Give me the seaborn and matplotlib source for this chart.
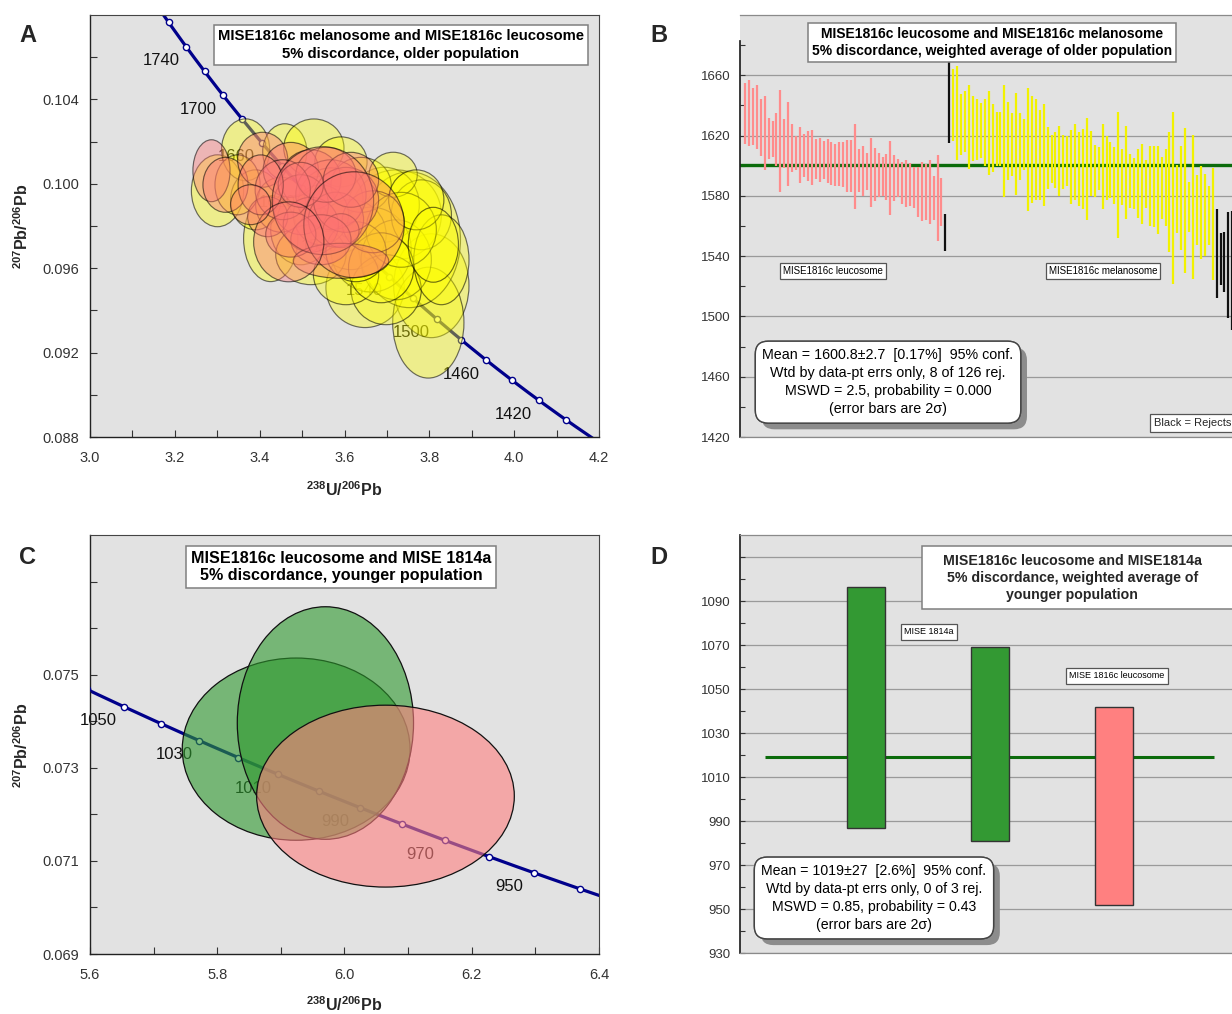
import numpy as np
import pandas as pd
import matplotlib
matplotlib.use("Agg")
import matplotlib.pyplot as plt
import seaborn as sns
from matplotlib.patches import Ellipse, Rectangle
from matplotlib import patheffects as pe
from matplotlib.ticker import FixedLocator, FormatStrFormatter

# ---------------------------------------------------------------- data
# Panel A: older population, error ellipses (238U/206Pb, 207Pb/206Pb, 2-sigma widths)
mel_x = [3.3006, 3.3669, 3.4592, 3.5278, 3.5917, 3.4260, 3.4970, 3.6485, 3.8047, 3.7976,
         3.7219, 3.7527, 3.6935, 3.6627, 3.6154, 3.5680, 3.3905, 3.7219, 3.7811, 3.6391,
         3.5207, 3.6982, 3.3479, 3.8284, 3.6036, 3.7148, 3.5444, 3.4497,
         3.7337, 3.6864, 3.7692, 3.6272, 3.8095, 3.6675]
mel_y = [0.09967, 0.10161, 0.10152, 0.10170, 0.10104, 0.09740, 0.09782, 0.09508, 0.09517, 0.09342,
         0.09853, 0.09735, 0.09901, 0.09688, 0.09759, 0.09924, 0.09924, 0.09640, 0.09853, 0.09995,
         0.09664, 0.09498, 0.09995, 0.09640, 0.09569, 0.10043, 0.09853, 0.09901,
         0.09782, 0.09602, 0.09924, 0.09678, 0.09711, 0.09820]
mel_w = [0.1231, 0.1136, 0.1041, 0.1420, 0.1231, 0.1278, 0.1420, 0.1846, 0.1775, 0.1680,
         0.2130, 0.2414, 0.1657, 0.1893, 0.1657, 0.1515, 0.1183, 0.1657, 0.1420, 0.1420,
         0.1657, 0.1657, 0.1065, 0.1302, 0.1538, 0.1136, 0.1302, 0.1183,
         0.1657, 0.1538, 0.1302, 0.1420, 0.1183, 0.1467]
mel_h = [0.003408, 0.002935, 0.002651, 0.002746, 0.002367, 0.004071, 0.003314, 0.003787, 0.004923, 0.005254,
         0.004260, 0.006438, 0.003550, 0.004024, 0.003314, 0.003030, 0.002840, 0.003787, 0.003314, 0.002604,
         0.002840, 0.003314, 0.002840, 0.004260, 0.002840, 0.002130, 0.002840, 0.002604,
         0.003550, 0.003314, 0.002840, 0.002840, 0.003550, 0.002935]

leu_x = [3.2864, 3.3195, 3.4071, 3.4734, 3.5207, 3.5680, 3.4970, 3.4189, 3.5207, 3.5799,
         3.6036, 3.5562, 3.4544, 3.5917, 3.4970, 3.5444, 3.4734, 3.5917, 3.4024, 3.6154,
         3.5491, 3.6225, 3.4686, 3.3787]
leu_y = [0.10062, 0.09995, 0.10114, 0.10066, 0.10019, 0.09948, 0.09901, 0.09844, 0.09806, 0.09830,
         0.09924, 0.10043, 0.09972, 0.09778, 0.09995, 0.09735, 0.09759, 0.09635, 0.09995, 0.10019,
         0.09920, 0.09806, 0.09725, 0.09901]
leu_w = [0.0876, 0.1065, 0.1183, 0.1302, 0.1420, 0.1657, 0.1302, 0.0947, 0.1302, 0.1302,
         0.1538, 0.1420, 0.1302, 0.0852, 0.1065, 0.1420, 0.1183, 0.2249, 0.1065, 0.1302,
         0.2391, 0.2367, 0.1657, 0.0947]
leu_h = [0.002935, 0.002604, 0.002604, 0.002604, 0.002840, 0.003314, 0.002840, 0.001893, 0.002604, 0.002604,
         0.003077, 0.002604, 0.002840, 0.001609, 0.002130, 0.002367, 0.002130, 0.001657, 0.002840, 0.002604,
         0.005112, 0.005018, 0.003787, 0.001893]

# Panel B: 207Pb/206Pb ages (Ma), 2-sigma error bar limits
leuco_hi = [1655.0, 1656.7, 1651.6, 1653.6, 1644.3, 1646.1, 1631.7, 1629.7, 1635.0, 1650.0,
            1631.0, 1642.3, 1628.0, 1620.0, 1625.7, 1620.9, 1623.3, 1623.5, 1617.8, 1618.7,
            1616.2, 1617.8, 1615.6, 1614.2, 1616.0, 1615.6, 1617.3, 1616.9, 1628.0, 1611.1,
            1613.3, 1608.5, 1618.7, 1612.0, 1608.5, 1605.8, 1608.0, 1616.4, 1607.2, 1604.5,
            1602.7, 1604.1, 1601.9, 1599.2, 1599.2, 1602.3, 1601.0, 1603.6, 1593.0, 1607.4, 1591.7]
leuco_lo = [1614.7, 1612.9, 1614.0, 1611.1, 1606.7, 1597.4, 1604.5, 1605.6, 1599.6, 1582.6,
            1598.5, 1586.4, 1595.7, 1597.0, 1588.6, 1592.6, 1589.7, 1587.3, 1591.2, 1589.0,
            1591.2, 1588.6, 1587.5, 1586.8, 1586.4, 1585.9, 1582.6, 1582.4, 1571.3, 1582.4,
            1579.8, 1583.7, 1572.7, 1576.4, 1579.3, 1580.2, 1577.5, 1567.4, 1576.4, 1579.3,
            1574.9, 1572.7, 1573.1, 1571.8, 1566.1, 1563.0, 1563.8, 1561.6, 1564.3, 1549.9, 1560.3]
rej_mid_hi = [1568.0, 1690.0]
rej_mid_lo = [1543.5, 1615.4]
mela_hi = [1664.2, 1666.4, 1647.8, 1649.6, 1653.6, 1646.1, 1644.3, 1641.7, 1644.3, 1649.6,
           1640.8, 1635.9, 1635.9, 1653.6, 1642.5, 1635.0, 1648.3, 1635.0, 1631.0, 1651.8,
           1646.5, 1644.3, 1636.8, 1640.8, 1625.7, 1620.4, 1622.2, 1626.2,
           1620.4, 1620.0, 1624.0, 1628.0, 1622.2, 1624.4, 1631.7, 1622.9, 1614.0, 1612.5,
           1628.0, 1620.0, 1615.6, 1612.5, 1635.5, 1611.1, 1626.2, 1608.0, 1605.4, 1611.1,
           1614.7, 1603.6, 1612.9, 1612.9, 1613.3, 1605.8,
           1611.1, 1622.6, 1635.9, 1600.7, 1612.9, 1624.8, 1589.5, 1620.4, 1593.9, 1600.1,
           1594.3, 1586.8, 1598.3]
mela_lo = [1616.2, 1604.1, 1607.4, 1608.9, 1597.9, 1603.0, 1604.1, 1605.0, 1599.6, 1594.1,
           1595.7, 1599.6, 1599.6, 1579.3, 1590.4, 1593.4, 1580.6, 1590.4, 1597.4, 1569.8,
           1575.3, 1577.1, 1577.1, 1573.1, 1584.6, 1588.6, 1585.3, 1580.2,
           1584.6, 1586.4, 1574.9, 1577.1, 1573.1, 1571.3, 1564.3, 1579.8, 1579.3, 1584.2,
           1571.3, 1577.5, 1578.9, 1574.9, 1552.1, 1574.0, 1564.7, 1571.8, 1571.3, 1565.6,
           1561.2, 1571.8, 1559.8, 1559.4, 1555.0, 1564.7,
           1560.3, 1542.6, 1521.4, 1555.4, 1543.9, 1528.9, 1555.9, 1524.9, 1547.5, 1538.2,
           1540.0, 1547.5, 1524.5]
rej_end_hi = [1571.3, 1555.4, 1555.9, 1569.6, 1569.8, 1560.0]
rej_end_lo = [1512.1, 1520.9, 1516.1, 1498.8, 1491.3, 1500.0]
mean_old = 1600.8

# Panel C: younger population ellipses
c_sample = ["MISE 1814a", "MISE 1814a", "MISE 1816c leucosome"]
c_x = [5.924, 5.970, 6.0644]
c_y = [0.07340, 0.073961, 0.072391]
c_w = [0.358, 0.277, 0.405]
c_h = [0.003914, 0.004996, 0.003907]

# Panel D: weighted average of younger population
d_sample = ["MISE 1814a", "MISE 1814a", "MISE 1816c leucosome"]
d_lo = [987.0, 980.7, 952.0]
d_hi = [1096.3, 1069.0, 1042.0]
mean_young = 1019.0

# Concordia ages (Ma)
a_marker_ages = list(range(1400, 1781, 20))
a_label_ages = list(range(1420, 1741, 40))
c_marker_ages = list(range(940, 1061, 10))
c_label_ages = list(range(950, 1051, 20))

# ---------------------------------------------------------------- style
sns.set_theme(style="ticks")
plt.rcParams["font.family"] = ["Liberation Sans", "DejaVu Sans"]
plt.rcParams["mathtext.fontset"] = "custom"
plt.rcParams["mathtext.rm"] = "Liberation Sans"
plt.rcParams["mathtext.bf"] = "Liberation Sans:bold"
plt.rcParams["axes.unicode_minus"] = False

BG = "#E2E2E2"
NAVY = "#00008B"
W, H = 1232, 1014
fig = plt.figure(figsize=(W / 100, H / 100), dpi=100, facecolor="white")


def axes_px(left, top, right, bottom):
    return fig.add_axes([left / W, 1 - bottom / H, (right - left) / W, (bottom - top) / H])


L238, L235, U85 = 1.55125e-4, 9.8485e-4, 137.88


def concordia(t):
    t = np.asarray(t, dtype=float)
    e8 = np.exp(L238 * t) - 1
    e5 = np.exp(L235 * t) - 1
    return 1 / e8, e5 / e8 / U85


def tick_style(ax, pad_x=10, pad_y=8, size=10.5):
    ax.tick_params(axis="both", which="both", direction="in", length=5, width=0.8,
                   color="#333333", labelcolor="#333333", labelsize=size)
    ax.tick_params(axis="x", pad=pad_x)
    ax.tick_params(axis="y", pad=pad_y)


def boxed(ax, x, y, s, size, weight="normal", ha="center", style="square,pad=0.35",
          ec="#7f7f7f", lw=1.1, ls=1.35, shadow=False):
    t = ax.text(x, y, s, transform=ax.transAxes, fontsize=size, fontweight=weight, ha=ha,
                va="center", linespacing=ls, multialignment="center", color="black",
                bbox=dict(boxstyle=style, fc="white", ec=ec, lw=lw), zorder=10)
    if shadow:
        t.get_bbox_patch().set_path_effects(
            [pe.withSimplePatchShadow(offset=(4.5, -4.5), shadow_rgbFace="#8c8c8c", alpha=1.0),
             pe.Normal()])
    return t


def draw_concordia(ax, t0, t1, marker_ages, label_ages):
    t = np.linspace(t0, t1, 400)
    cx, cy = concordia(t)
    sns.lineplot(x=cx, y=cy, sort=False, color=NAVY, lw=2.3, ax=ax, zorder=2)
    mx, my = concordia(marker_ages)
    sns.scatterplot(x=mx, y=my, s=20, color="white", edgecolor=NAVY, linewidth=1.0,
                    zorder=3, ax=ax)
    lx, ly = concordia(label_ages)
    for age, xx, yy in zip(label_ages, lx, ly):
        ax.annotate(str(age), (xx, yy), xytext=(-18, -10), textcoords="offset points",
                    ha="center", va="center", fontsize=12, color="#111111", zorder=2,
                    annotation_clip=True)


def frame(ax):
    ax.set_facecolor(BG)
    for side in ("left", "bottom"):
        ax.spines[side].set_color("#222222")
        ax.spines[side].set_linewidth(1.0)
    for side in ("top", "right"):
        ax.spines[side].set_visible(True)
        ax.spines[side].set_color("#444444")
        ax.spines[side].set_linewidth(0.8)


# ---------------------------------------------------------------- panel A
axA = axes_px(90, 15, 599, 437)
frame(axA)
draw_concordia(axA, 1370, 1790, a_marker_ages, a_label_ages)
for x, y, w, h in zip(mel_x, mel_y, mel_w, mel_h):
    axA.add_patch(Ellipse((x, y), w, h, fc=(1.0, 1.0, 0.0, 0.38), ec=(0, 0, 0, 0.55),
                          lw=0.85, zorder=4))
for x, y, w, h in zip(leu_x, leu_y, leu_w, leu_h):
    axA.add_patch(Ellipse((x, y), w, h, fc=(1.0, 0.45, 0.45, 0.40), ec=(0, 0, 0, 0.55),
                          lw=0.85, zorder=5))
axA.set_xlim(3.0, 4.2)
axA.set_ylim(0.088, 0.108)
axA.xaxis.set_major_locator(FixedLocator(np.round(np.arange(3.0, 4.21, 0.2), 1)))
axA.xaxis.set_minor_locator(FixedLocator(np.round(np.arange(3.1, 4.2, 0.2), 1)))
axA.xaxis.set_major_formatter(FormatStrFormatter("%.1f"))
axA.yaxis.set_major_locator(FixedLocator(np.round(np.arange(0.088, 0.1041, 0.004), 3)))
axA.yaxis.set_minor_locator(FixedLocator(np.round(np.arange(0.090, 0.1071, 0.004), 3)))
axA.yaxis.set_major_formatter(FormatStrFormatter("%.3f"))
axA.set_xlabel("")
axA.set_ylabel("")
tick_style(axA)
boxed(axA, 0.611, 0.929,
      "MISE1816c melanosome and MISE1816c leucosome\n5% discordance, older population",
      10.7, weight="bold", style="square,pad=0.3", ls=1.3)

# ---------------------------------------------------------------- panel B
axB = axes_px(740, 15, 1244, 437)
axB.set_facecolor(BG)
hi_all = leuco_hi + rej_mid_hi + mela_hi + rej_end_hi
lo_all = leuco_lo + rej_mid_lo + mela_lo + rej_end_lo
group = (["leucosome"] * len(leuco_hi) + ["reject"] * len(rej_mid_hi)
         + ["melanosome"] * len(mela_hi) + ["reject"] * len(rej_end_hi))
dfB = pd.DataFrame({"hi": hi_all, "lo": lo_all, "group": group})
dfB["n"] = np.arange(1, len(dfB) + 1)
bar_colors = {"leucosome": "#FF8C8C", "melanosome": "#F2F200", "reject": "#111111"}
axB.axhline(mean_old, color="#0B6B0B", lw=2.4, zorder=2)
for g, sub in dfB.groupby("group"):
    axB.vlines(sub["n"], sub["lo"], sub["hi"], colors=bar_colors[g], lw=1.6, zorder=3)
axB.set_xlim(-0.27, -0.27 + 504 / 3.93)
axB.set_ylim(1420, 1700)
axB.set_xticks([])
axB.yaxis.set_major_locator(FixedLocator(np.arange(1420, 1661, 40)))
axB.yaxis.set_minor_locator(FixedLocator(np.arange(1440, 1681, 40)))
axB.grid(axis="y", which="major", color="#9a9a9a", lw=0.9, zorder=1)
axB.set_axisbelow(True)
axB.tick_params(axis="y", which="both", direction="in", length=3.5, width=0.8,
                color="#333333", labelcolor="#333333", labelsize=9.5, pad=7)
axB.spines["left"].set_color("#222222")
axB.spines["left"].set_bounds(1420, 1683)
for side in ("top", "bottom", "right"):
    axB.spines[side].set_color("#8a8a8a")
    axB.spines[side].set_linewidth(0.9)
boxed(axB, 0.5, 0.934,
      "MISE1816c leucosome and MISE1816c melanosome\n5% discordance, weighted average of older population",
      10.0, weight="bold", style="square,pad=0.3", ls=1.25)
boxed(axB, 0.1845, 0.393, "MISE1816c leucosome", 7, style="square,pad=0.3", ec="#555555", lw=0.9)
boxed(axB, 0.720, 0.393, "MISE1816c melanosome", 7, style="square,pad=0.3", ec="#555555", lw=0.9)
boxed(axB, 0.2937, 0.130,
      "Mean = 1600.8±2.7  [0.17%]  95% conf.\nWtd by data-pt errs only, 8 of 126 rej.\n"
      "MSWD = 2.5, probability = 0.000\n(error bars are 2σ)",
      10.3, style="round,pad=0.5,rounding_size=0.9", ec="#444444", lw=1.0, ls=1.35, shadow=True)
axB.text(0.821, 0.033, "Black = Rejects", transform=axB.transAxes, fontsize=8, ha="left",
         va="center", bbox=dict(boxstyle="square,pad=0.35", fc="white", ec="#555555", lw=0.9),
         zorder=10)

# ---------------------------------------------------------------- panel C
axC = axes_px(90, 535, 599, 954)
frame(axC)
draw_concordia(axC, 925, 1070, c_marker_ages, c_label_ages)
c_fill = {"MISE 1814a": (0.18, 0.60, 0.18, 0.60), "MISE 1816c leucosome": (1.0, 0.50, 0.50, 0.60)}
for s, x, y, w, h in zip(c_sample, c_x, c_y, c_w, c_h):
    axC.add_patch(Ellipse((x, y), w, h, fc=c_fill[s], ec="#111111", lw=0.9, zorder=4))
axC.set_xlim(5.6, 6.4)
axC.set_ylim(0.069, 0.078)
axC.xaxis.set_major_locator(FixedLocator(np.round(np.arange(5.6, 6.41, 0.2), 1)))
axC.xaxis.set_minor_locator(FixedLocator(np.round(np.arange(5.7, 6.4, 0.2), 1)))
axC.xaxis.set_major_formatter(FormatStrFormatter("%.1f"))
axC.yaxis.set_major_locator(FixedLocator(np.round(np.arange(0.069, 0.0751, 0.002), 3)))
axC.yaxis.set_minor_locator(FixedLocator([0.070, 0.072, 0.074, 0.076, 0.077]))
axC.yaxis.set_major_formatter(FormatStrFormatter("%.3f"))
axC.set_xlabel("")
axC.set_ylabel("")
tick_style(axC)
boxed(axC, 0.493, 0.924, "MISE1816c leucosome and MISE 1814a\n5% discordance, younger population",
      11.6, weight="bold", style="square,pad=0.3", ls=1.2)

# ---------------------------------------------------------------- panel D
axD = axes_px(740, 535, 1238, 953)
axD.set_facecolor(BG)
d_col = {"MISE 1814a": "#339933", "MISE 1816c leucosome": "#FF8080"}
xd = np.arange(1, len(d_lo) + 1)
axD.hlines(mean_young, 0.185, 3.81, color="#0B6B0B", lw=2.2, zorder=2)
axD.bar(xd, np.array(d_hi) - np.array(d_lo), bottom=d_lo, width=0.3,
        color=[d_col[s] for s in d_sample], edgecolor="#333333", lw=1.0, zorder=3)
axD.set_xlim(-0.016, -0.016 + 498 / 124)
axD.set_ylim(930, 1120)
axD.set_xticks([])
axD.yaxis.set_major_locator(FixedLocator(np.arange(930, 1111, 20)))
axD.yaxis.set_minor_locator(FixedLocator(np.arange(940, 1120, 20)))
axD.set_yticklabels([str(v) if v <= 1090 else "" for v in np.arange(930, 1111, 20)])
axD.grid(axis="y", which="major", color="#9a9a9a", lw=0.9, zorder=1)
axD.set_axisbelow(True)
axD.tick_params(axis="y", which="both", direction="in", length=3.5, width=0.8,
                color="#333333", labelcolor="#333333", labelsize=9.5, pad=7)
axD.spines["left"].set_color("#222222")
for side in ("top", "bottom", "right"):
    axD.spines[side].set_color("#8a8a8a")
    axD.spines[side].set_linewidth(0.9)
# title box runs on past the right edge of the panel
axD.add_patch(Rectangle((0.3655, 0.823), 0.70, 0.151, transform=axD.transAxes, fc="white",
                        ec="#7f7f7f", lw=1.1, zorder=9, clip_on=False))
axD.text(0.667, 0.897,
         "MISE1816c leucosome and MISE1814a\n5% discordance, weighted average of\nyounger population",
         transform=axD.transAxes, fontsize=10.2, fontweight="bold", ha="center", va="center",
         linespacing=1.3, multialignment="center", zorder=10)
boxed(axD, 0.3795, 0.768, "MISE 1814a", 6.5, style="square,pad=0.35", ec="#555555", lw=0.9)
boxed(axD, 0.757, 0.663, "MISE 1816c leucosome", 6.5, style="square,pad=0.35", ec="#555555", lw=0.9)
boxed(axD, 0.269, 0.1316,
      "Mean = 1019±27  [2.6%]  95% conf.\nWtd by data-pt errs only, 0 of 3 rej.\n"
      "MSWD = 0.85, probability = 0.43\n(error bars are 2σ)",
      10.2, style="round,pad=0.5,rounding_size=0.9", ec="#444444", lw=1.0, ls=1.35, shadow=True)

# ---------------------------------------------------------------- labels
xlab = r"$\mathbf{^{238}U/^{206}Pb}$"
ylab = r"$\mathbf{^{207}Pb/^{206}Pb}$"
fig.text(344 / W, 1 - 490 / H, xlab, ha="center", va="center", fontsize=11.5)
fig.text(344 / W, 1 - 1005 / H, xlab, ha="center", va="center", fontsize=11.5)
fig.text(22 / W, 1 - 226 / H, ylab, ha="center", va="center", rotation=90, fontsize=11.5)
fig.text(22 / W, 1 - 745 / H, ylab, ha="center", va="center", rotation=90, fontsize=11.5)
for letter, (px, py) in {"A": (28, 35), "B": (659, 35), "C": (27, 557), "D": (659, 557)}.items():
    fig.text(px / W, 1 - py / H, letter, ha="center", va="center", fontsize=17, fontweight="bold")

fig.savefig("out.png", dpi=100, facecolor="white")
